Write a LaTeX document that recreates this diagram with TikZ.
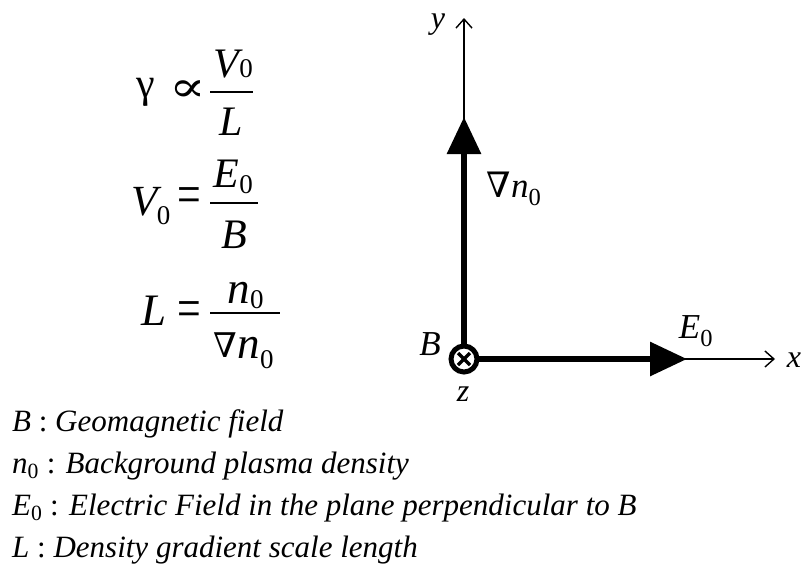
\documentclass[tikz,border=0pt]{standalone}
\usepackage{amsmath}
\usepackage{fontspec}
\setmainfont{Liberation Serif}
\newfontfamily\symf{DejaVu Serif}
\usetikzlibrary{arrows.meta,calc}
\newcommand{\iv}[1]{\text{\itshape #1}}
\newcommand{\zr}{\text{0}}
\newcommand{\nab}{\text{\symf ∇}}
\begin{document}
\begin{tikzpicture}[x=1pt,y=-1pt,
  every node/.style={inner sep=0pt},
  bigit/.style={anchor=base west,font=\fontsize{45}{50}\selectfont\itshape},
  midit/.style={anchor=base west,font=\fontsize{42}{46}\selectfont\itshape},
  subz/.style={anchor=base west,font=\fontsize{27}{32}\selectfont},
  rel/.style={font=\fontsize{42}{46}\selectfont},
  fracbar/.style={line width=1.6pt},
  legend/.style={anchor=base west,font=\fontsize{31}{38}\selectfont},
  lbl/.style={font=\fontsize{35}{40}\selectfont},
  axlbl/.style={font=\fontsize{32}{38}\selectfont\itshape},
  axis/.style={line width=1.2pt,-{Straight Barb[length=9pt,width=16pt,line width=1.4pt]}},
  vec/.style={line width=6pt,-{Triangle[length=37pt,width=33pt]}}]
\useasboundingbox (0,0) rectangle (801,579);
% formula 1: gamma prop V0/L
\node[rel,anchor=base] (g) at (146,97) {γ};
\node[font=\fontsize{34}{40}\selectfont\symf] (prop) at (188,91) {\scalebox{1.6}[1.25]{∝}};
\coordinate (b1l) at (210,92); \coordinate (b1r) at (253,92);
\draw[fracbar] (b1l) -- (b1r);
\node[midit] (v1) at (213,77) {V};
\node[subz] (v1s) at ($(v1.base east)+(0,0)$) {0};
\node[midit] (l1) at (219,135) {L};
% formula 2: V0 = E0/B
\node[midit,font=\fontsize{43}{48}\selectfont\itshape] (v2) at (131,215) {V};
\node[subz] (v2s) at ($(v2.base east)+(-1,9)$) {0};
\node[rel] (eq2) at (189,201) {\scalebox{1}[1.35]{=}};
\coordinate (b2l) at (210,203); \coordinate (b2r) at (258,203);
\draw[fracbar] (b2l) -- (b2r);
\node[midit] (e2) at (213,187) {E};
\node[subz] (e2s) at ($(e2.base east)+(0,6)$) {0};
\node[midit] (bb2) at (221,248) {B};
% formula 3: L = n0 / nabla n0
\node[bigit] (l3) at (141,325) {L};
\node[rel] (eq3) at (189,315) {\scalebox{1}[1.35]{=}};
\coordinate (b3l) at (210,313); \coordinate (b3r) at (280,313);
\draw[fracbar] (b3l) -- (b3r);
\node[bigit] (n3) at (227,303) {n};
\node[subz] (n3s) at ($(n3.base east)+(0,5)$) {0};
\node[font=\fontsize{34}{40}\selectfont\symf] (nab3) at (225,345.5) {∇};
\node[bigit] (n3d) at (237,358) {n};
\node[subz] (n3ds) at ($(n3d.base east)+(0,10)$) {0};
% legend
\node[legend] (lg1) at (12,431) {\textit{B} : \textit{Geomagnetic field}};
\node[legend] (lg2) at (12,473) {$\iv{n}_\zr$ : \textit{Background plasma density}};
\node[legend] (lg3) at (12,515) {$\iv{E}_\zr$ : \textit{Electric Field in the plane perpendicular to B}};
\node[legend] (lg4) at (12,557) {\textit{L} : \textit{Density gradient scale length}};
% axes
\coordinate (O) at (464,359);
\coordinate (ytip) at (464,18);
\coordinate (xtip) at (775,359);
\coordinate (ntip) at (464,117);
\coordinate (etip) at (687,359);
\draw[axis] (O) -- (ytip);
\draw[axis] (O) -- (xtip);
\draw[vec] (O) -- (ntip);
\draw[vec] (O) -- (etip);
\node[circle,draw,fill=white,line width=5pt,minimum size=26pt] (Bc) at (O) {};
\draw[line width=3.2pt] ($(O)+(-6,-6)$) -- ($(O)+(6,6)$);
\draw[line width=3.2pt] ($(O)+(-6,6)$) -- ($(O)+(6,-6)$);
% labels
\node[axlbl] (ly) at (438,25) {y};
\node[axlbl] (lx) at (794,360) {x};
\node[axlbl] (lz) at (463,394) {z};
\node[lbl] (lB) at (430,344) {\textit{B}};
\node[lbl] (lE) at (696,331) {$\iv{E}_\zr$};
\node[lbl] (lN) at (514,189) {$\nab\iv{n}_\zr$};
\end{tikzpicture}
\end{document}
